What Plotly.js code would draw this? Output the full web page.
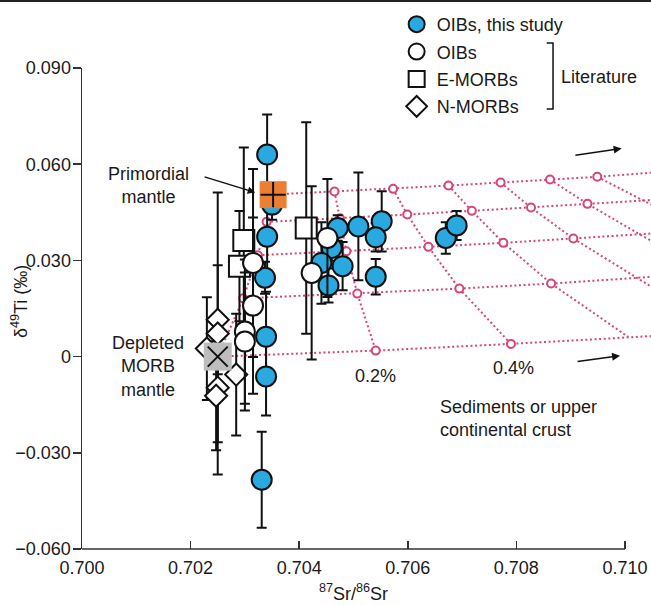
<!DOCTYPE html>
<html>
<head>
<meta charset="utf-8">
<script src="https://cdn.plot.ly/plotly-3.0.1.min.js"></script>
<style>
  html, body { margin: 0; padding: 0; background: #fff; }
  #chart { width: 651px; height: 605px; }
</style>
</head>
<body>
<div id="chart"></div>
<script>
// ---------- Data ----------
// OIBs, this study
const oibStudyX = [0.70341, 0.70350, 0.70341, 0.70337, 0.70339, 0.70339, 0.70331,
                   0.70471, 0.70509, 0.70552, 0.70541, 0.70460, 0.70441, 0.70480,
                   0.70454, 0.70541, 0.70670, 0.70690];
const oibStudyY = [0.0630, 0.0474, 0.0374, 0.0246, 0.0062, -0.0062, -0.0384,
                   0.0401, 0.0406, 0.0422, 0.0372, 0.0339, 0.0292, 0.0282,
                   0.0222, 0.0249, 0.0370, 0.0409];
const oibStudyErr = [0.0125, 0.0047, 0.0120, 0.0050, 0.0140, 0.0122, 0.0150,
                     0.0040, 0.0168, 0.0094, 0.0044, 0.0040, 0.0127, 0.0075,
                     0.0053, 0.0055, 0.0049, 0.0045];
// OIBs, literature
const oibLitX = [0.70315, 0.70315, 0.70300, 0.70300, 0.70452, 0.70423];
const oibLitY = [0.0292, 0.0159, 0.0078, 0.0047, 0.0370, 0.0261];
const oibLitErr = [0.0293, 0.0275, 0.0225, 0.0215, 0.0184, 0.0270];
// E-MORBs, literature
const emorbX = [0.70413, 0.70298, 0.70290];
const emorbY = [0.0401, 0.0362, 0.0282];
const emorbErr = [0.0330, 0.0290, 0.0172];
// N-MORBs, literature
const nmorbX = [0.70250, 0.70250, 0.70230, 0.70284, 0.70250, 0.70247];
const nmorbY = [0.0115, 0.0072, 0.0025, -0.0056, -0.0097, -0.0122];
const nmorbErr = [0.0170, 0.0440, 0.0160, 0.0190, 0.0170, 0.0170];
// End-members
const pmX = [0.70352], pmY = [0.0505];
const dmmX = [0.70250], dmmY = [0.0];
// Mixing grid nodes (rows: DMM..PM source mixtures; columns: sediment fraction steps)
const gridX = [
  [0.70250, 0.70541, 0.70790, 0.71006],
  [0.70297, 0.70507, 0.70695, 0.70864, 0.71022],
  [0.70324, 0.70487, 0.70638, 0.70776, 0.70905, 0.71028],
  [0.70340, 0.70475, 0.70599, 0.70718, 0.70827, 0.70931, 0.71033],
  [0.70352, 0.70465, 0.70573, 0.70675, 0.70771, 0.70862, 0.70949]
];
const gridY = [
  [0.00000, 0.00187, 0.00396, 0.00615],
  [0.01816, 0.01965, 0.02121, 0.02277, 0.02455],
  [0.03160, 0.03285, 0.03422, 0.03547, 0.03681, 0.03806],
  [0.04202, 0.04314, 0.04430, 0.04545, 0.04648, 0.04763, 0.04866],
  [0.05054, 0.05147, 0.05231, 0.05334, 0.05428, 0.05522, 0.05606]
];
const rowEndX = 0.71060;
const rowEndY = [0.0065, 0.0250, 0.0385, 0.0490, 0.0575];
const colEndIdx = [4, 5, 6];
const colEndY = [0.0206, 0.0350, 0.0464];
const xTicks = [0.700, 0.702, 0.704, 0.706, 0.708, 0.710];
const xTickText = ['0.700', '0.702', '0.704', '0.706', '0.708', '0.710'];
const yTicks = [-0.060, -0.030, 0, 0.030, 0.060, 0.090];
const yTickText = ['\u22120.060', '\u22120.030', '0', '0.030', '0.060', '0.090'];

// ---------- Build grid traces ----------
const PINK = '#d6457c';
const lx = [], ly = [];
for (let r = 0; r < gridX.length; r++) {
  gridX[r].forEach((v, i) => { lx.push(v); ly.push(gridY[r][i]); });
  lx.push(rowEndX); ly.push(rowEndY[r]);
  lx.push(null); ly.push(null);
}
for (let k = 0; k < 7; k++) {
  for (let r = gridX.length - 1; r >= 0; r--) {
    if (gridX[r].length > k) { lx.push(gridX[r][k]); ly.push(gridY[r][k]); }
  }
  const e = colEndIdx.indexOf(k);
  if (e >= 0) { lx.push(rowEndX); ly.push(colEndY[e]); }
  lx.push(null); ly.push(null);
}
const mx = [], my = [];
for (let r = 0; r < gridX.length; r++) {
  gridX[r].forEach((v, i) => { if (v <= 0.7100) { mx.push(v); my.push(gridY[r][i]); } });
}

const BLACK = '#111111';
const errY = (arr) => ({type: 'data', array: arr, visible: true, color: BLACK, thickness: 2, width: 5});

const traces = [
  {x: lx, y: ly, mode: 'lines', line: {color: PINK, width: 2, dash: '2px,2.6px'},
   hoverinfo: 'skip', showlegend: false, connectgaps: false},
  {x: mx, y: my, mode: 'markers', hoverinfo: 'skip', showlegend: false,
   marker: {symbol: 'circle', size: 8, color: '#ffffff', line: {color: PINK, width: 2}}},
  {x: oibStudyX, y: oibStudyY, mode: 'markers', name: 'OIBs, this study',
   legendgroup: 'a', legendrank: 1, error_y: errY(oibStudyErr),
   marker: {symbol: 'circle', size: 20, color: '#2aa9e0', line: {color: BLACK, width: 2}}},
  {x: emorbX, y: emorbY, mode: 'markers', name: 'E-MORBs',
   legendgroup: 'c', legendrank: 3, error_y: errY(emorbErr),
   marker: {symbol: 'square', size: 21, color: '#ffffff', line: {color: BLACK, width: 2}}},
  {x: nmorbX, y: nmorbY, mode: 'markers', name: 'N-MORBs',
   legendgroup: 'd', legendrank: 4, error_y: errY(nmorbErr),
   marker: {symbol: 'diamond', size: 17, color: '#ffffff', line: {color: BLACK, width: 2}}},
  {x: oibLitX, y: oibLitY, mode: 'markers', name: 'OIBs',
   legendgroup: 'b', legendrank: 2, error_y: errY(oibLitErr),
   marker: {symbol: 'circle', size: 20, color: '#ffffff', line: {color: BLACK, width: 2}}},
  {x: dmmX, y: dmmY, mode: 'markers', showlegend: false, hoverinfo: 'skip',
   marker: {symbol: 'square', size: 28, color: '#bdbdbd', line: {width: 0}}},
  {x: dmmX, y: dmmY, mode: 'markers', showlegend: false, hoverinfo: 'skip',
   marker: {symbol: 'x-thin-open', size: 20, color: BLACK, line: {color: BLACK, width: 2}}},
  {x: pmX, y: pmY, mode: 'markers', showlegend: false, hoverinfo: 'skip',
   marker: {symbol: 'square', size: 27, color: '#ec7f34', line: {width: 0}}},
  {x: pmX, y: pmY, mode: 'markers', showlegend: false, hoverinfo: 'skip',
   marker: {symbol: 'cross-thin-open', size: 18, color: BLACK, line: {color: BLACK, width: 2}}}
];

const FONT = 'Liberation Sans, Arial, Helvetica, sans-serif';
const TXT = '#1a1a1a';
const AX = '#333333';
const xMax = 0.71048;
const xEndPaper = (0.710 - 0.700) / (xMax - 0.700);

const annotations = [
  {x: 0.70122, y: 0.0533, xref: 'x', yref: 'y', text: 'Primordial<br>mantle', showarrow: false,
   font: {size: 18, color: TXT}, align: 'center'},
  {x: 0.70319, y: 0.0512, ax: 0.70223, ay: 0.0562, xref: 'x', yref: 'y', axref: 'x', ayref: 'y',
   text: '', showarrow: true, arrowhead: 2, arrowsize: 1, arrowwidth: 1.5, arrowcolor: BLACK},
  {x: 0.70122, y: -0.0031, xref: 'x', yref: 'y', text: 'Depleted<br>MORB<br>mantle', showarrow: false,
   font: {size: 18, color: TXT}, align: 'center'},
  {x: 0.70540, y: -0.0062, xref: 'x', yref: 'y', text: '0.2%', showarrow: false,
   font: {size: 18, color: TXT}},
  {x: 0.70794, y: -0.0034, xref: 'x', yref: 'y', text: '0.4%', showarrow: false,
   font: {size: 18, color: TXT}},
  {x: 0.70656, y: -0.0192, xref: 'x', yref: 'y', text: 'Sediments or upper<br>continental crust',
   showarrow: false, xanchor: 'left', align: 'left', font: {size: 18, color: TXT}},
  {x: 0.70994, y: 0.0649, ax: 0.70906, ay: 0.0627, xref: 'x', yref: 'y', axref: 'x', ayref: 'y',
   text: '', showarrow: true, arrowhead: 2, arrowsize: 1, arrowwidth: 1.6, arrowcolor: BLACK},
  {x: 0.70991, y: 0.0003, ax: 0.70910, ay: -0.0016, xref: 'x', yref: 'y', axref: 'x', ayref: 'y',
   text: '', showarrow: true, arrowhead: 2, arrowsize: 1, arrowwidth: 1.6, arrowcolor: BLACK},
  {x: 0.838, y: 0.981, xref: 'paper', yref: 'paper', text: 'Literature', showarrow: false,
   xanchor: 'left', yanchor: 'middle', font: {size: 18, color: TXT}},
  {x: 0.705, y: -0.0894, xref: 'x', yref: 'paper', text: '<sup>87</sup>Sr/<sup>86</sup>Sr',
   showarrow: false, yanchor: 'middle', font: {size: 18, color: TXT}},
  {x: -0.1107, y: 0.5135, xref: 'paper', yref: 'paper', text: '\u03b4<sup>49</sup>Ti (\u2030)',
   showarrow: false, textangle: -90, xanchor: 'center', yanchor: 'middle', font: {size: 18, color: TXT}}
];

const shapes = [
  {type: 'line', xref: 'paper', yref: 'paper', x0: 0, x1: xEndPaper, y0: 0, y1: 0,
   line: {color: AX, width: 1.5}},
  {type: 'path', xref: 'paper', yref: 'paper',
   path: 'M 0.8167 1.052 L 0.8278 1.052 L 0.8278 0.9148 L 0.8167 0.9148',
   line: {color: BLACK, width: 1.5}},
  {type: 'line', xref: 'paper', yref: 'paper', x0: -0.1441, x1: 1.0, y0: 1.1393, y1: 1.1393,
   line: {color: '#222222', width: 2}}
];

const layout = {
  width: 651, height: 605,
  margin: {l: 82, r: 0, t: 68, b: 56, pad: 0},
  paper_bgcolor: '#ffffff', plot_bgcolor: '#ffffff',
  font: {family: FONT, size: 18, color: TXT},
  showlegend: true,
  legend: {x: 0.553, y: 1.129, xanchor: 'left', yanchor: 'top', bgcolor: 'rgba(0,0,0,0)',
           font: {size: 18, color: TXT}, tracegroupgap: 1, traceorder: 'grouped'},
  xaxis: {range: [0.700, xMax], showgrid: false, zeroline: false, showline: false,
          tickmode: 'array', tickvals: xTicks, ticktext: xTickText,
          ticks: 'inside', ticklen: 8, tickwidth: 1.5, tickcolor: AX, ticklabelstandoff: 6,
          tickfont: {size: 18, color: TXT}, fixedrange: true},
  yaxis: {range: [-0.060, 0.090], showgrid: false, zeroline: false, showline: true,
          linecolor: AX, linewidth: 1.5,
          tickmode: 'array', tickvals: yTicks, ticktext: yTickText,
          ticks: 'outside', ticklen: 8, tickwidth: 1.5, tickcolor: AX, ticklabelstandoff: -2,
          tickfont: {size: 18, color: TXT}, fixedrange: true},
  annotations: annotations,
  shapes: shapes,
  hovermode: false
};

Plotly.newPlot('chart', traces, layout, {staticPlot: true, displayModeBar: false});
</script>
</body>
</html>
